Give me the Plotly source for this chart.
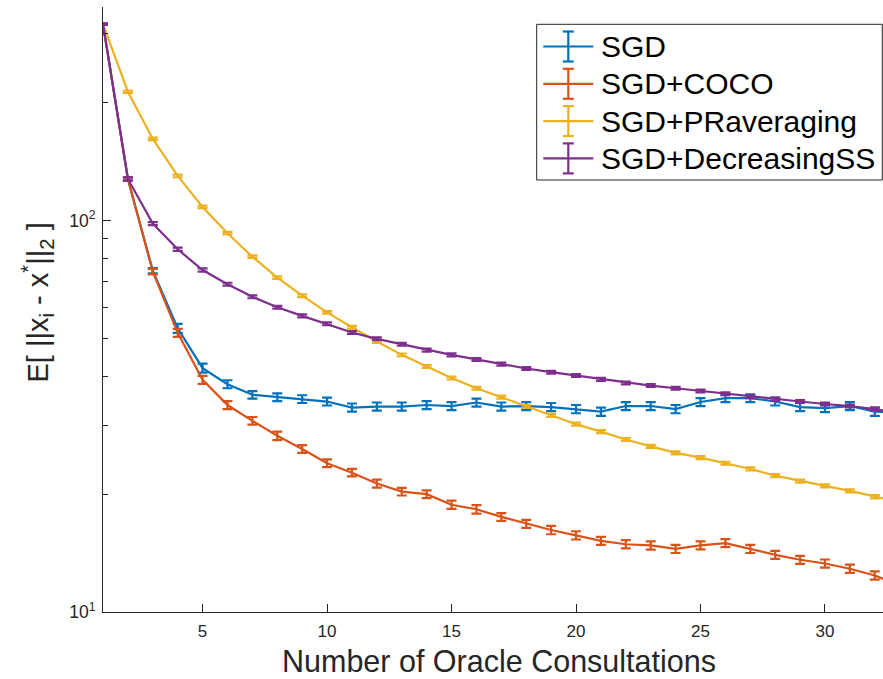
import plotly.graph_objects as go

# Iteration index (number of oracle consultations)
consultations = list(range(1, 34))

# Mean distance to the optimum for each method
sgd = [318, 127.8, 74.5, 53.1, 42.0, 38.2, 35.9, 35.4, 35.0, 34.5,
       33.3, 33.5, 33.5, 33.8, 33.6, 34.3, 33.5, 33.6, 33.4, 33.0,
       32.5, 33.6, 33.6, 33.0, 34.4, 35.2, 35.2, 34.5, 33.4, 33.2,
       33.6, 32.5, 32.4]
coco = [318, 127.8, 74.1, 51.7, 39.2, 33.8, 30.8, 28.2, 26.1, 24.0,
        22.7, 21.3, 20.3, 20.0, 18.8, 18.3, 17.5, 16.8, 16.2, 15.7,
        15.2, 14.9, 14.8, 14.5, 14.8, 15.0, 14.5, 14.0, 13.6, 13.3,
        12.9, 12.4, 11.7]
pr_avg = [318, 213.6, 161.8, 130.1, 108.4, 92.9, 80.9, 71.5, 64.3, 58.3,
          53.4, 49.1, 45.4, 42.4, 39.6, 37.3, 35.4, 33.5, 31.8, 30.2,
          28.9, 27.6, 26.5, 25.5, 24.8, 24.0, 23.2, 22.3, 21.6, 21.0,
          20.4, 19.7, 19.1]
dec_ss = [318, 127.8, 98.3, 84.5, 74.8, 68.8, 63.9, 60.1, 57.1, 54.5,
          51.8, 49.9, 48.3, 46.7, 45.4, 44.2, 43.0, 41.9, 41.0, 40.2,
          39.3, 38.5, 37.9, 37.3, 36.7, 36.1, 35.5, 35.0, 34.5, 34.0,
          33.6, 33.0, 32.2]

# Standard errors
sgd_err = [1.5, 1.2, 1.2, 1.4, 1.1, 0.9, 0.8, 0.8, 0.8, 0.8,
           0.8, 0.8, 0.8, 0.8, 0.8, 0.8, 0.8, 0.8, 0.8, 0.8,
           0.8, 0.8, 0.8, 0.8, 0.8, 0.8, 0.8, 0.8, 0.8, 0.8,
           0.8, 0.8, 0.8]
coco_err = [1.5, 1.2, 1.2, 1.2, 0.9, 0.8, 0.7, 0.7, 0.6, 0.55,
            0.5, 0.5, 0.45, 0.45, 0.45, 0.45, 0.4, 0.4, 0.4, 0.38,
            0.36, 0.36, 0.36, 0.35, 0.35, 0.35, 0.35, 0.33, 0.32, 0.32,
            0.31, 0.3, 0.3]
pr_err = [1.5, 1.5, 1.2, 1.0, 0.8, 0.7, 0.6, 0.55, 0.5, 0.45,
          0.42, 0.4, 0.37, 0.35, 0.33, 0.31, 0.3, 0.28, 0.27, 0.26,
          0.25, 0.24, 0.23, 0.22, 0.22, 0.21, 0.21, 0.2, 0.2, 0.19,
          0.19, 0.18, 0.18]
dec_err = [1.5, 1.2, 0.9, 0.8, 0.7, 0.6, 0.55, 0.5, 0.5, 0.45,
           0.45, 0.42, 0.4, 0.4, 0.38, 0.37, 0.36, 0.35, 0.34, 0.34,
           0.33, 0.32, 0.32, 0.31, 0.31, 0.3, 0.3, 0.3, 0.29, 0.29,
           0.28, 0.28, 0.27]

names = ["SGD", "SGD+COCO", "SGD+PRaveraging", "SGD+DecreasingSS"]
colors = ["#0072BD", "#D95319", "#EDB120", "#7E2F8E"]
series = [sgd, coco, pr_avg, dec_ss]
errors = [sgd_err, coco_err, pr_err, dec_err]

FONT = "Liberation Sans, Arial, Helvetica, sans-serif"
AXIS_COLOR = "#262626"
LW = 2.2

W, H = 883, 679
M_L, M_R, M_T, M_B = 103, 0, 7, 67
PW, PH = W - M_L - M_R, H - M_T - M_B


def px(x):
    """Horizontal pixel -> paper coordinate."""
    return (x - M_L) / PW


def py(y):
    """Vertical pixel (from top) -> paper coordinate."""
    return (H - M_B - y) / PH


fig = go.Figure()

for name, color, vals, err in zip(names, colors, series, errors):
    fig.add_trace(go.Scatter(
        x=consultations, y=vals, mode="lines", name=name,
        line=dict(color=color, width=LW),
        error_y=dict(type="data", array=err, visible=True,
                     color=color, thickness=LW, width=5),
        showlegend=False,
    ))

# Boxed legend with errorbar-style glyphs
shapes = []
annotations = []
box_l, box_t, box_r, box_b = 536.7, 24.3, 882.3, 180.0
shapes.append(dict(type="rect", xref="paper", yref="paper",
                   x0=px(box_l), x1=px(box_r), y0=py(box_b), y1=py(box_t),
                   line=dict(color=AXIS_COLOR, width=1), fillcolor="white",
                   layer="above"))
row0, row_step = 46.5, 37.3
for k, (name, color) in enumerate(zip(names, colors)):
    yc = row0 + k * row_step
    seg = dict(xref="paper", yref="paper", type="line", layer="above",
               line=dict(color=color, width=LW))
    shapes.append({**seg, "x0": px(543.3), "x1": px(593.3),
                   "y0": py(yc), "y1": py(yc)})
    shapes.append({**seg, "x0": px(568.3), "x1": px(568.3),
                   "y0": py(yc - 15), "y1": py(yc + 15)})
    for yy in (yc - 15, yc + 15):
        shapes.append({**seg, "x0": px(562.8), "x1": px(573.8),
                       "y0": py(yy), "y1": py(yy)})
    annotations.append(dict(
        xref="paper", yref="paper", x=px(598.5), y=py(yc),
        xanchor="left", yanchor="middle", showarrow=False,
        text=name, font=dict(family=FONT, size=30, color="black")))

# Axis titles
annotations.append(dict(
    xref="paper", yref="paper", x=px(498.5), y=py(661),
    xanchor="center", yanchor="middle", showarrow=False,
    text="Number of Oracle Consultations",
    font=dict(family=FONT, size=30.5, color=AXIS_COLOR)))
annotations.append(dict(
    xref="paper", yref="paper", x=px(37), y=py(302.5),
    xanchor="center", yanchor="middle", showarrow=False, textangle=-90,
    text="E[ ||x<sub>i</sub> - x<sup>*</sup>||<sub>2</sub> ]",
    font=dict(family=FONT, size=29, color=AXIS_COLOR)))

fig.update_layout(
    width=W, height=H,
    margin=dict(l=M_L, r=M_R, t=M_T, b=M_B),
    paper_bgcolor="white", plot_bgcolor="white",
    font=dict(family=FONT, color=AXIS_COLOR),
    showlegend=False,
    shapes=shapes,
    annotations=annotations,
    xaxis=dict(
        range=[1, 32.33],
        tickvals=[5, 10, 15, 20, 25, 30],
        ticks="inside", ticklen=8, tickwidth=1, tickcolor=AXIS_COLOR,
        showline=True, linecolor=AXIS_COLOR, linewidth=1,
        showgrid=False, zeroline=False,
        tickfont=dict(size=17, color=AXIS_COLOR),
        ticklabelstandoff=4,
    ),
    yaxis=dict(
        type="log", range=[1, 2.546],
        tickvals=[10, 100],
        ticktext=["10<sup>1</sup>", "10<sup>2</sup>"],
        ticks="inside", ticklen=8, tickwidth=1, tickcolor=AXIS_COLOR,
        minor=dict(tickvals=[20, 30, 40, 50, 60, 70, 80, 90, 200, 300],
                   ticks="inside", ticklen=5, tickwidth=1,
                   tickcolor=AXIS_COLOR, showgrid=False),
        showline=True, linecolor=AXIS_COLOR, linewidth=1,
        showgrid=False, zeroline=False,
        tickfont=dict(size=17.5, color=AXIS_COLOR),
        ticklabelstandoff=3,
    ),
)

fig.write_html("out.html")
